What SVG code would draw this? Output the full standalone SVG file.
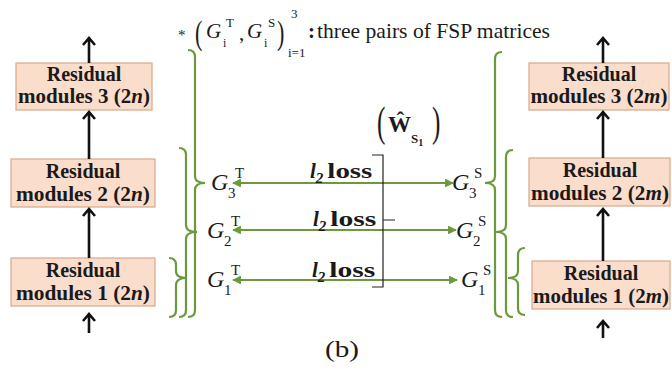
<svg xmlns="http://www.w3.org/2000/svg" width="672" height="371" viewBox="0 0 672 371">
<defs>
<style>
.box{fill:#FBDDCB;stroke:#D8A98B;stroke-width:1.2}
.bt{font-family:'Liberation Serif','DejaVu Serif',serif;font-weight:bold;font-size:20px;fill:#1a1a1a;text-anchor:middle}
.it{font-style:italic}
.ser{font-family:'Liberation Serif','DejaVu Serif',serif;fill:#1a1a1a}
.g{font-size:24px;font-style:italic}
.sm{font-size:15px;font-style:normal}
.blk{stroke:#111;stroke-width:2.6;fill:none}
.brace{stroke:#6A9A3C;stroke-width:2.2;fill:none}
.garrow{stroke:#6A9A3C;stroke-width:2.2;fill:none;marker-start:url(#gh);marker-end:url(#gh)}
.loss{font-family:'Liberation Serif','DejaVu Serif',serif;font-weight:bold;font-size:21px;fill:#1a1a1a}
</style>
<marker id="gh" viewBox="0 0 10 10" refX="9" refY="5" markerWidth="4" markerHeight="4" orient="auto-start-reverse" markerUnits="strokeWidth">
<path d="M0,0 L10,5 L0,10 z" fill="#6A9A3C"/>
</marker>
</defs>

<g id="teacher-res3">
<rect class="box" x="16" y="63" width="136" height="47"/>
<text class="bt" x="84" y="81">Residual</text>
<text class="bt" x="84" y="103" textLength="132" lengthAdjust="spacingAndGlyphs">modules 3 (2<tspan class="it">n</tspan>)</text>
</g>
<g id="teacher-res2">
<rect class="box" x="11" y="159" width="144" height="48"/>
<text class="bt" x="83" y="178">Residual</text>
<text class="bt" x="83" y="201" textLength="134" lengthAdjust="spacingAndGlyphs">modules 2 (2<tspan class="it">n</tspan>)</text>
</g>
<g id="teacher-res1">
<rect class="box" x="11" y="258" width="144" height="48"/>
<text class="bt" x="83" y="277">Residual</text>
<text class="bt" x="83" y="300" textLength="134" lengthAdjust="spacingAndGlyphs">modules 1 (2<tspan class="it">n</tspan>)</text>
</g>

<g id="student-res3">
<rect class="box" x="529" y="63" width="140" height="47"/>
<text class="bt" x="599" y="81">Residual</text>
<text class="bt" x="599" y="103" textLength="137" lengthAdjust="spacingAndGlyphs">modules 3 (2<tspan class="it">m</tspan>)</text>
</g>
<g id="student-res2">
<rect class="box" x="529" y="158" width="141" height="48"/>
<text class="bt" x="600" y="177">Residual</text>
<text class="bt" x="600" y="200" textLength="138" lengthAdjust="spacingAndGlyphs">modules 2 (2<tspan class="it">m</tspan>)</text>
</g>
<g id="student-res1">
<rect class="box" x="532" y="261" width="138" height="48"/>
<text class="bt" x="601" y="280">Residual</text>
<text class="bt" x="601" y="303" textLength="136" lengthAdjust="spacingAndGlyphs">modules 1 (2<tspan class="it">m</tspan>)</text>
</g>

<g id="connectors">
<path class="blk" d="M89,63 V38 M83,45 L89,38 L95,45"/>
<path class="blk" d="M89,159 V112 M83,119 L89,112 L95,119"/>
<path class="blk" d="M89,258 V209 M83,216 L89,209 L95,216"/>
<path class="blk" d="M89,333 V314 M83,321 L89,314 L95,321"/>
<path class="blk" d="M603,63 V38 M597,45 L603,38 L609,45"/>
<path class="blk" d="M603,158 V112 M597,119 L603,112 L609,119"/>
<path class="blk" d="M603,261 V209 M597,216 L603,209 L609,216"/>
<path class="blk" d="M603,338 V321 M597,328 L603,321 L609,328"/>
<line class="garrow" x1="233" y1="183" x2="453" y2="183"/>
<line class="garrow" x1="233" y1="230" x2="456" y2="230"/>
<line class="garrow" x1="233" y1="280" x2="457" y2="280"/>
<path class="brace" d="M188,50 Q195,50 195,57 L195,176 Q195,183 205,183 Q195,183 195,190 L195,310 Q195,317 188,317"/>
<path class="brace" d="M179,148 Q186,148 186,155 L186,225 Q186,232 197,232 Q186,232 186,239 L186,310 Q186,317 179,317"/>
<path class="brace" d="M169,258 Q176,258 176,265 L176,271 Q176,278 187,278 Q176,278 176,285 L176,310 Q176,317 169,317"/>
<path class="brace" d="M502,52 Q495,52 495,59 L495,176 Q495,183 485,183 Q495,183 495,190 L495,310 Q495,317 502,317"/>
<path class="brace" d="M513,150 Q506,150 506,157 L506,225 Q506,232 496,232 Q506,232 506,239 L506,310 Q506,317 513,317"/>
<path class="brace" d="M525,248 Q518,248 518,255 L518,271 Q518,278 508,278 Q518,278 518,285 L518,308 Q518,315 525,315"/>
<path d="M372,155 H383 V287 H372 M383,220 H395" stroke="#222" stroke-width="1.2" fill="none"/>
</g>

<g id="teacher-fsp" class="ser">
<text class="g" x="211" y="190">G</text>
<text class="sm" x="228" y="198">3</text>
<text class="sm" x="235" y="178">T</text>
<text class="g" x="207" y="238">G</text>
<text class="sm" x="224" y="246">2</text>
<text class="sm" x="231" y="226">T</text>
<text class="g" x="207" y="287">G</text>
<text class="sm" x="224" y="295">1</text>
<text class="sm" x="231" y="275">T</text>
</g>
<g id="student-fsp" class="ser">
<text class="g" x="452" y="190">G</text>
<text class="sm" x="469" y="198">3</text>
<text class="sm" x="474" y="178">S</text>
<text class="g" x="456" y="238">G</text>
<text class="sm" x="473" y="246">2</text>
<text class="sm" x="478" y="226">S</text>
<text class="g" x="461" y="287">G</text>
<text class="sm" x="478" y="295">1</text>
<text class="sm" x="483" y="275">S</text>
</g>

<g id="loss-labels">
<text class="loss" x="310" y="178"><tspan font-style="italic">l</tspan><tspan font-size="15" font-style="italic" dy="5">2</tspan><tspan dy="-5" dx="4" textLength="45" lengthAdjust="spacingAndGlyphs">loss</tspan></text>
<text class="loss" x="313" y="226"><tspan font-style="italic">l</tspan><tspan font-size="15" font-style="italic" dy="5">2</tspan><tspan dy="-5" dx="4" textLength="46" lengthAdjust="spacingAndGlyphs">loss</tspan></text>
<text class="loss" x="312" y="277"><tspan font-style="italic">l</tspan><tspan font-size="15" font-style="italic" dy="5">2</tspan><tspan dy="-5" dx="4" textLength="46" lengthAdjust="spacingAndGlyphs">loss</tspan></text>
</g>

<g id="w-label" class="ser">
<text font-size="42" transform="translate(377,136) scale(0.6,1)">(</text>
<text x="388" y="132"><tspan font-size="23" font-weight="bold">Ŵ</tspan><tspan font-size="13" font-weight="bold" dy="11">S</tspan><tspan font-size="10" font-weight="bold" dy="3">1</tspan></text>
<text font-size="42" transform="translate(432,136) scale(0.6,1)">)</text>
</g>

<g id="legend" class="ser">
<text font-size="15" x="178" y="40">*</text>
<text font-size="34" transform="translate(195,44) scale(0.65,1)">(</text>
<text font-size="21" font-style="italic" x="206" y="38">G</text>
<text font-size="12" x="223" y="47">i</text>
<text font-size="13" x="226" y="27">T</text>
<text font-size="21" x="239" y="40">,</text>
<text font-size="21" font-style="italic" x="247" y="38">G</text>
<text font-size="12" x="264" y="47">i</text>
<text font-size="13" x="268" y="27">S</text>
<text font-size="34" transform="translate(277,44) scale(0.65,1)">)</text>
<text font-size="13" x="291" y="18">3</text>
<text font-size="13" x="288" y="57">i=1</text>
<text font-size="21" font-weight="bold" x="308" y="38">:</text>
<text font-size="21" x="317" y="38" textLength="233" lengthAdjust="spacingAndGlyphs">three pairs of FSP matrices</text>
</g>

<g id="caption" class="ser">
<text font-size="23" x="325" y="357" textLength="34" lengthAdjust="spacingAndGlyphs">(b)</text>
</g>
</svg>
